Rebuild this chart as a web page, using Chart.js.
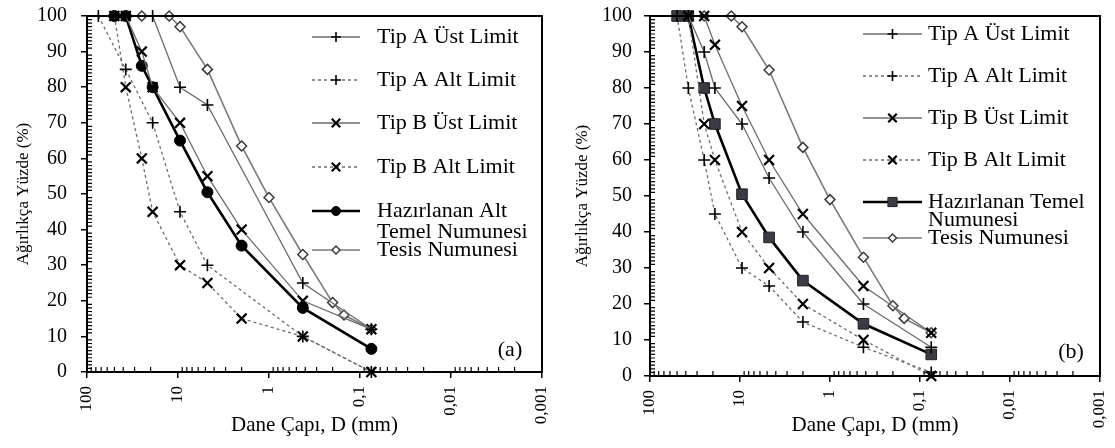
<!DOCTYPE html>
<html>
<head>
<meta charset="utf-8">
<script src="https://cdn.jsdelivr.net/npm/chart.js@4.4.0/dist/chart.umd.min.js"></script>
<style>
body { margin: 0; background: #fff; }
#wrap { position: relative; width: 1115px; height: 448px; }
canvas { position: absolute; top: 0; }
#chartA { left: 0; }
#chartB { left: 557px; }
</style>
</head>
<body>
<div id="wrap">
    <canvas id="chartA" width="557" height="448"></canvas>
    <canvas id="chartB" width="558" height="448"></canvas>
</div>
<script>
// sieve sizes (mm) and passing percentages
const xTickValues = [100, 10, 1, 0.1, 0.01, 0.001];
const xTickLabels = ['100', '10', '1', '0,1', '0,01', '0,001'];

// (a)
const tipAUstD_a = [19, 9.5, 4.75, 0.425, 0.075];
const tipAUstP_a = [100, 80, 75, 25, 12];
const tipAAltD_a = [75, 37.5, 19, 9.5, 4.75, 0.425, 0.075];
const tipAAltP_a = [100, 85, 70, 45, 30, 10, 0];
const tipBUstD_a = [37.5, 25, 19, 9.5, 4.75, 2, 0.425, 0.075];
const tipBUstP_a = [100, 90, 80, 70, 55, 40, 20, 12];
const tipBAltD_a = [50, 37.5, 25, 19, 9.5, 4.75, 2, 0.425, 0.075];
const tipBAltP_a = [100, 80, 60, 45, 30, 25, 15, 10, 0];
const numuneD_a = [50, 37.5, 25, 19, 9.5, 4.75, 2, 0.425, 0.075];
const numuneP_a = [100, 100, 86, 80, 65, 50.5, 35.5, 18, 6.5];

// (b)
const tipAUstD_b = [37.5, 25, 19, 9.5, 4.75, 2, 0.425, 0.075];
const tipAUstP_b = [100, 90, 80, 70, 55, 40, 20, 8];
const tipAAltD_b = [50, 37.5, 25, 19, 9.5, 4.75, 2, 0.425, 0.075];
const tipAAltP_b = [100, 80, 60, 45, 30, 25, 15, 8, 1];
const tipBUstD_b = [25, 19, 9.5, 4.75, 2, 0.425, 0.075];
const tipBUstP_b = [100, 92, 75, 60, 45, 25, 12];
const tipBAltD_b = [37.5, 25, 19, 9.5, 4.75, 2, 0.425, 0.075];
const tipBAltP_b = [100, 70, 60, 40, 30, 20, 10, 0];
const numuneD_b = [50, 37.5, 25, 19, 9.5, 4.75, 2, 0.425, 0.075];
const numuneP_b = [100, 100, 80, 70, 50.5, 38.5, 26.5, 14.5, 6];

// plant sample, same in both panels
const tesisD = [25, 12.5, 9.5, 4.75, 2, 1, 0.425, 0.2, 0.15, 0.075];
const tesisP = [100, 100, 97, 85, 63.5, 49, 33, 19.5, 16, 12];

const names_a = ['Tip A Üst Limit', 'Tip A Alt Limit', 'Tip B Üst Limit', 'Tip B Alt Limit', ['Hazırlanan Alt', 'Temel Numunesi'], 'Tesis Numunesi'];
const names_b = ['Tip A Üst Limit', 'Tip A Alt Limit', 'Tip B Üst Limit', 'Tip B Alt Limit', ['Hazırlanan Temel', 'Numunesi'], 'Tesis Numunesi'];

const FONT = '"Liberation Serif", "Times New Roman", serif';

function pts(d, p) {
    return d.map((v, i) => ({ x: v, y: p[i] }));
}

function limitSet(name, d, p, marker, dashed) {
    const isX = marker === 'crossRot';
    return {
        label: name,
        data: pts(d, p),
        borderColor: '#6c6c6c',
        borderWidth: 1.3,
        borderDash: dashed ? [3, 3] : [],
        pointStyle: marker,
        pointRadius: isX ? 7 : 6,
        pointBorderWidth: isX ? 2.2 : 1.6,
        pointBorderColor: '#000',
        pointBackgroundColor: '#000',
        legendRadius: isX ? 6 : 5
    };
}

function buildSets(names, D, P, sampleStyle) {
    const sets = [
        limitSet(names[0], D[0], P[0], 'cross', false),
        limitSet(names[1], D[1], P[1], 'cross', true),
        limitSet(names[2], D[2], P[2], 'crossRot', false),
        limitSet(names[3], D[3], P[3], 'crossRot', true),
        {
            label: [].concat(names[4]).join(' '),
            data: pts(D[4], P[4]),
            borderColor: '#000',
            borderWidth: 2.6,
            pointStyle: sampleStyle,
            pointRadius: sampleStyle === 'rect' ? 7.5 : 5.5,
            pointBorderWidth: 1,
            pointBorderColor: sampleStyle === 'rect' ? '#222' : '#000',
            pointBackgroundColor: sampleStyle === 'rect' ? '#3b3b48' : '#000',
            legendRadius: sampleStyle === 'rect' ? 6.5 : 4.5
        },
        {
            label: names[5],
            data: pts(tesisD, tesisP),
            borderColor: '#7a7a7a',
            borderWidth: 1.6,
            pointStyle: 'rectRot',
            pointRadius: 5,
            pointBorderWidth: 1.5,
            pointBorderColor: '#3a3a3a',
            pointBackgroundColor: '#fff',
            legendRadius: 4
        }
    ];
    // draw the sample line on top
    return [sets[0], sets[1], sets[2], sets[3], sets[5], sets[4]];
}

// frame round the plot area and the minor ticks
const frameTicks = {
    id: 'frameTicks',
    afterDraw(chart) {
        const { ctx, chartArea: a, scales: { x, y } } = chart;
        ctx.save();
        ctx.setLineDash([]);
        ctx.strokeStyle = '#000';
        ctx.lineWidth = 1.2;
        ctx.beginPath();
        for (let v = 1; v < 100; v++) {
            if (v % 10 === 0) continue;
            const py = y.getPixelForValue(v);
            ctx.moveTo(a.left, py);
            ctx.lineTo(a.left + 5, py);
        }
        for (let e = -3; e < 2; e++) {
            for (let m = 2; m < 10; m++) {
                const px = x.getPixelForValue(m * Math.pow(10, e));
                ctx.moveTo(px, a.bottom);
                ctx.lineTo(px, a.bottom - 5);
            }
        }
        ctx.stroke();
        ctx.lineWidth = 2;
        ctx.strokeRect(a.left, a.top, a.right - a.left, a.bottom - a.top);
        ctx.restore();
    }
};

const sketchLegend = {
    id: 'sketchLegend',
    afterDraw(chart, args, opts) {
        const ctx = chart.ctx;
        ctx.save();
        opts.names.forEach((name, i) => {
            const ds = chart.data.datasets.find(d => d.label === [].concat(name).join(' '));
            const y = opts.rows[i];
            ctx.strokeStyle = ds.borderColor;
            ctx.lineWidth = ds.borderWidth;
            ctx.setLineDash(ds.borderDash || []);
            ctx.beginPath();
            ctx.moveTo(opts.x0, y);
            ctx.lineTo(opts.x1, y);
            ctx.stroke();
            ctx.setLineDash([]);
            ctx.fillStyle = ds.pointBackgroundColor;
            ctx.strokeStyle = ds.pointBorderColor;
            ctx.lineWidth = ds.pointBorderWidth;
            Chart.helpers.drawPoint(ctx, {
                pointStyle: ds.pointStyle,
                radius: ds.legendRadius,
                borderWidth: ds.pointBorderWidth,
                rotation: 0
            }, (opts.x0 + opts.x1) / 2, y);
            ctx.fillStyle = '#000';
            ctx.font = '22px ' + FONT;
            ctx.textBaseline = 'middle';
            ctx.textAlign = 'left';
            [].concat(name).forEach((t, k) => ctx.fillText(t, opts.textX, y + k * opts.lineGap));
        });
        ctx.textAlign = 'center';
        ctx.fillText(opts.tag, opts.tagX, opts.tagY);
        ctx.restore();
    }
};

function makeChart(id, sets, L) {
    const ctx = document.getElementById(id).getContext('2d');
    return new Chart(ctx, {
        type: 'line',
        data: { datasets: sets },
        plugins: [sketchLegend, frameTicks],
        options: {
            responsive: false,
            animation: false,
            clip: false,
            layout: { padding: { top: 16, right: 15, left: 0, bottom: 0 } },
            elements: { line: { tension: 0, fill: false } },
            plugins: {
                legend: { display: false },
                tooltip: { enabled: false },
                sketchLegend: L.legend
            },
            scales: {
                x: {
                    type: 'logarithmic',
                    reverse: true,
                    min: 0.001,
                    max: 100,
                    afterBuildTicks: s => { s.ticks = xTickValues.map(v => ({ value: v })); },
                    afterFit: s => {
                        s.height = L.xHeight;
                        s.paddingLeft = 0;
                        s.paddingRight = 0;
                    },
                    ticks: {
                        autoSkip: false,
                        minRotation: 90,
                        maxRotation: 90,
                        padding: 8,
                        color: '#000',
                        font: { family: FONT, size: 17 },
                        callback: (v, i) => xTickLabels[i]
                    },
                    grid: { display: true, drawOnChartArea: false, tickLength: 6, color: '#000', lineWidth: 1.5 },
                    border: { display: true, color: '#000', width: 2 },
                    title: {
                        display: true,
                        text: 'Dane Çapı, D (mm)',
                        color: '#000',
                        font: { family: FONT, size: 21 },
                        padding: { top: 0, bottom: 10 }
                    }
                },
                y: {
                    min: 0,
                    max: 100,
                    afterFit: s => {
                        s.width = L.yWidth;
                        s.paddingTop = 0;
                        s.paddingBottom = 0;
                    },
                    ticks: {
                        stepSize: 10,
                        padding: L.yPad,
                        color: '#000',
                        font: { family: FONT, size: 20 }
                    },
                    grid: { display: true, drawOnChartArea: false, tickLength: 6, color: '#000', lineWidth: 1.5 },
                    border: { display: true, color: '#000', width: 2 },
                    title: {
                        display: true,
                        text: 'Ağırlıkça Yüzde (%)',
                        color: '#000',
                        font: { family: FONT, size: 17 },
                        padding: { top: L.yTitlePad, bottom: 0 }
                    }
                }
            }
        }
    });
}

document.addEventListener('DOMContentLoaded', () => {
    const setsA = buildSets(names_a,
        [tipAUstD_a, tipAAltD_a, tipBUstD_a, tipBAltD_a, numuneD_a],
        [tipAUstP_a, tipAAltP_a, tipBUstP_a, tipBAltP_a, numuneP_a], 'circle');
    const setsB = buildSets(names_b,
        [tipAUstD_b, tipAAltD_b, tipBUstD_b, tipBAltD_b, numuneD_b],
        [tipAUstP_b, tipAAltP_b, tipBUstP_b, tipBAltP_b, numuneP_b], 'rect');

    makeChart('chartA', setsA, {
        xHeight: 76, yWidth: 87, yPad: 14, yTitlePad: 13,
        legend: {
            names: names_a, x0: 312, x1: 360, textX: 377, lineGap: 21,
            rows: [37, 80, 123, 167, 211, 250],
            tag: '(a)', tagX: 510, tagY: 350
        }
    });
    makeChart('chartB', setsB, {
        xHeight: 72, yWidth: 93, yPad: 12, yTitlePad: 15,
        legend: {
            names: names_b, x0: 306, x1: 365, textX: 371, lineGap: 18,
            rows: [34, 76, 118, 160, 202, 238],
            tag: '(b)', tagX: 514, tagY: 352
        }
    });
});
</script>
</body>
</html>
